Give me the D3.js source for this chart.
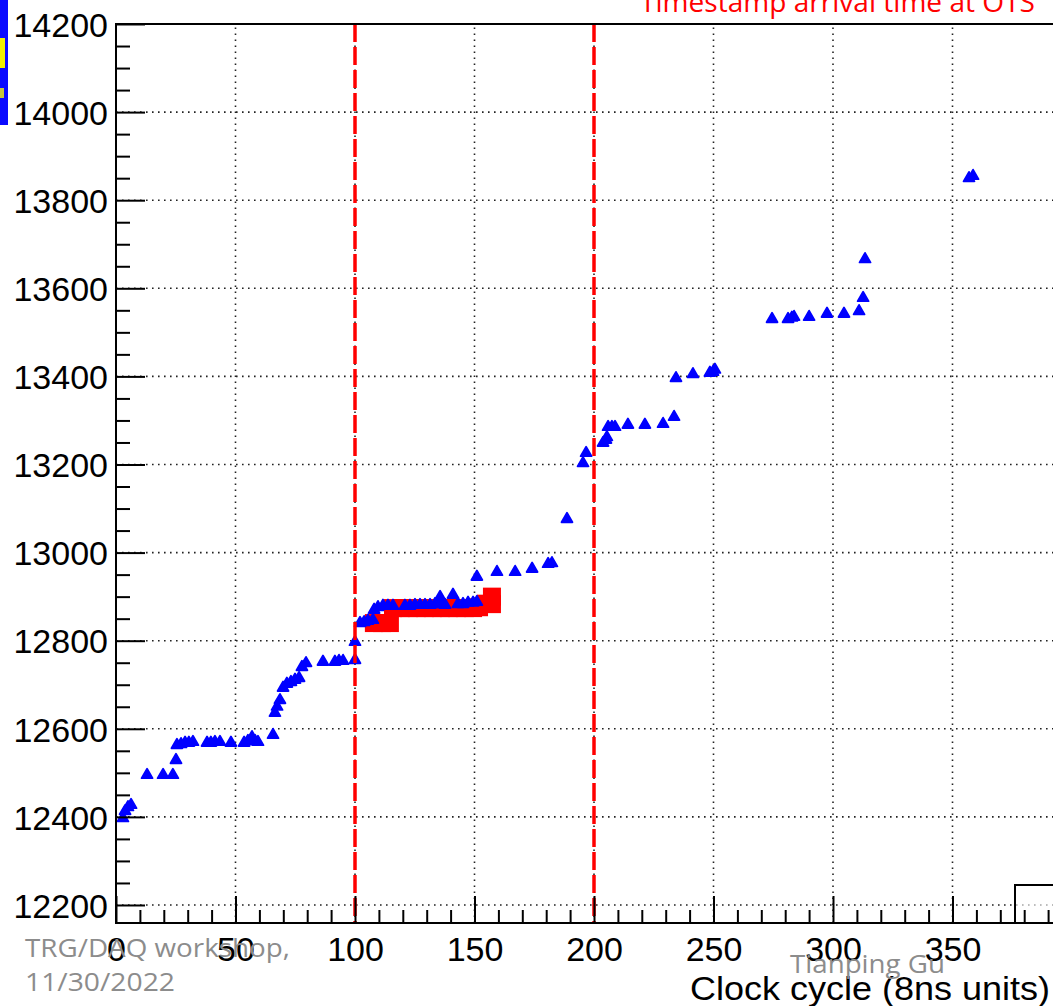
<!DOCTYPE html>
<html>
<head>
<meta charset="utf-8">
<script src="https://cdn.jsdelivr.net/npm/d3@7"></script>
<style>
  body { margin: 0; background: #fff; }
  svg { display: block; }
</style>
</head>
<body>
<svg id="chart"></svg>
<script>
const width = 1053;
const height = 1006;

// blue points: timestamp vs clock cycle
const blueX = [2.9, 3.8, 5.0, 6.3, 13.0, 19.7, 23.8, 25.1, 25.5, 27.2, 28.9, 30.5, 32.2,
  38.1, 39.7, 41.4, 43.5, 48.1, 53.6, 55.2, 56.9, 58.2, 59.4, 65.7, 66.5, 67.4, 68.6,
  69.9, 71.5, 73.2, 74.9, 76.6, 77.8, 79.5, 86.6, 91.6, 93.3, 95.0, 100.0, 100.0,
  102.1, 103.8, 105.4, 107.5, 108.0, 109.6, 111.7, 113.8, 115.9,
  120.9, 123.0, 125.1, 127.2, 129.3, 131.4, 133.5, 135.6, 137.7, 135.6, 141.0,
  143.1, 145.2, 147.3, 149.4, 151.0, 151.0, 159.4, 167.0, 174.1, 180.8, 182.4,
  188.7, 195.4, 196.7, 203.8, 205.0, 205.4, 205.9, 207.5, 208.8, 214.2, 221.3, 228.9,
  233.5, 234.3, 241.4, 248.5, 249.8, 250.6, 274.5, 281.2, 282.8, 283.7, 290.0, 297.5,
  304.6, 310.9, 312.6, 313.4, 356.9, 358.6];
const blueY = [12397, 12413, 12422, 12427, 12495, 12495, 12495, 12529, 12563, 12565, 12568, 12568, 12570,
  12568, 12568, 12570, 12570, 12568, 12568, 12572, 12581, 12572, 12570, 12586, 12636, 12650, 12665,
  12693, 12702, 12706, 12711, 12715, 12740, 12749, 12752, 12752, 12754, 12754, 12756, 12797,
  12840, 12842, 12845, 12847, 12870, 12876, 12879, 12879, 12879,
  12879, 12879, 12881, 12881, 12881, 12881, 12883, 12883, 12881, 12899, 12904,
  12883, 12883, 12886, 12886, 12888, 12945, 12956, 12956, 12963, 12974, 12976,
  13076, 13203, 13226, 13249, 13256, 13262, 13285, 13285, 13285, 13290, 13290, 13292,
  13308, 13396, 13405, 13408, 13410, 13415, 13530, 13530, 13533, 13535, 13535, 13542,
  13542, 13548, 13578, 13666, 13850, 13855];

// red points (large markers)
const redX = [107.9, 111.3, 114.6, 115.9, 119.2, 122.6, 125.9, 129.3, 132.6, 136.0, 139.3,
  142.7, 146.0, 149.4, 151.9, 154.8, 157.3, 157.3];
const redY = [12840, 12840, 12840, 12874, 12874, 12874, 12874, 12874, 12874, 12874, 12874,
  12874, 12874, 12874, 12876, 12884, 12883, 12900];

const xMajor = [0, 50, 100, 150, 200, 250, 300, 350, 400];
const yMajor = [12200, 12400, 12600, 12800, 13000, 13200, 13400, 13600, 13800, 14000, 14200];
const cutLines = [100, 200];

const svg = d3.select("#chart")
  .attr("width", width)
  .attr("height", height);

const x = d3.scaleLinear().domain([0, 400]).range([116, 1072]);
const y = d3.scaleLinear().domain([12159.1, 14200]).range([923, 24]);

// top-left slide decoration
svg.append("rect").attr("x", 0).attr("y", 0).attr("width", 8).attr("height", 125).attr("fill", "#0a0aff");
svg.append("rect").attr("x", 0).attr("y", 38).attr("width", 5).attr("height", 30).attr("fill", "#f2f200");
svg.append("rect").attr("x", 0).attr("y", 88).attr("width", 4).attr("height", 10).attr("fill", "#c8c83a");

// grid
const grid = svg.append("g").attr("stroke", "#222").attr("stroke-width", 1.6)
  .attr("stroke-dasharray", "1.6,4.4");
grid.selectAll(".gx").data(xMajor.filter(d => d > 0)).enter().append("line")
  .attr("x1", d => x(d)).attr("x2", d => x(d))
  .attr("y1", y.range()[0]).attr("y2", y.range()[1]);
grid.selectAll(".gy").data(yMajor.filter(d => d < 14200)).enter().append("line")
  .attr("x1", x.range()[0]).attr("x2", x.range()[1])
  .attr("y1", d => y(d)).attr("y2", d => y(d));

// red markers
svg.append("g").selectAll("rect")
  .data(redX.map((v, i) => [v, redY[i]]))
  .enter().append("rect")
  .attr("x", d => x(d[0]) - 9)
  .attr("y", d => y(d[1]) - 9)
  .attr("width", 18).attr("height", 18)
  .attr("fill", "#ff0000");

// blue markers
const tri = d3.symbol().type(d3.symbolTriangle).size(52);
svg.append("g").selectAll("path")
  .data(blueX.map((v, i) => [v, blueY[i]]))
  .enter().append("path")
  .attr("d", tri)
  .attr("transform", d => `translate(${x(d[0])},${y(d[1])})`)
  .attr("fill", "#0000ff")
  .attr("stroke", "#0000ff")
  .attr("stroke-width", 1.8)
  .attr("stroke-linejoin", "round");

// dashed cut lines
svg.append("g").selectAll("line").data(cutLines).enter().append("line")
  .attr("x1", d => x(d)).attr("x2", d => x(d))
  .attr("y1", y.range()[1]).attr("y2", y.range()[0])
  .attr("stroke", "#ff0000").attr("stroke-width", 3.5)
  .attr("stroke-dasharray", "18,5");

// stats box corner
svg.append("rect").attr("x", 1015).attr("y", 885).attr("width", 80).attr("height", 38)
  .attr("fill", "#fff").attr("fill-opacity", 0.6).attr("stroke", "#000").attr("stroke-width", 2);

// axes
const fontAxis = "'Liberation Sans', Arial, sans-serif";
const yAxis = d3.axisLeft(y).tickValues(yMajor).tickSize(-29).tickPadding(8).tickFormat(d3.format("d"));
const yMinor = d3.axisLeft(y).tickValues(d3.range(12200, 14200, 50).filter(v => v % 200 !== 0))
  .tickSize(-14).tickFormat("");
const xAxis = d3.axisBottom(x).tickValues(xMajor.slice(0, 8)).tickSize(-27).tickPadding(14).tickFormat(d3.format("d"));
const xMinor = d3.axisBottom(x).tickValues(d3.range(0, 400, 10).filter(v => v % 50 !== 0))
  .tickSize(-13).tickFormat("");

function styleAxis(g) {
  g.select(".domain").remove();
  g.selectAll("line").attr("stroke", "#000").attr("stroke-width", 2);
  g.selectAll("text").attr("font-family", fontAxis).attr("font-size", 34).attr("fill", "#000");
}

svg.append("g").attr("transform", `translate(${x(0)},0)`).call(yMinor).call(styleAxis);
svg.append("g").attr("transform", `translate(${x(0)},0)`).call(yAxis).call(styleAxis)
  .selectAll("text").attr("dy", "0.36em");
svg.append("g").attr("transform", `translate(0,${y(12159.1)})`).call(xMinor).call(styleAxis);
svg.append("g").attr("transform", `translate(0,${y(12159.1)})`).call(xAxis).call(styleAxis)
  .selectAll("text").attr("dy", "0.71em");

// frame
svg.append("rect")
  .attr("x", x(0)).attr("y", y(14200))
  .attr("width", x(400) - x(0)).attr("height", y(12159.1) - y(14200))
  .attr("fill", "none").attr("stroke", "#000").attr("stroke-width", 2);

// axis title
svg.append("text").attr("x", 1050).attr("y", 1000).attr("text-anchor", "end")
  .attr("font-family", fontAxis).attr("font-size", 34)
  .attr("textLength", 360).attr("lengthAdjust", "spacingAndGlyphs")
  .text("Clock cycle (8ns units)");

// slide texts
const fontSlide = "'Open Sans', 'Noto Sans', sans-serif";
svg.append("text").attr("x", 640).attr("y", 12).attr("fill", "#ff0000")
  .attr("font-family", fontSlide).attr("font-size", 27)
  .attr("textLength", 395).attr("lengthAdjust", "spacingAndGlyphs")
  .text("Timestamp arrival time at OTS");
svg.append("text").attr("x", 25).attr("y", 957).attr("fill", "#8c8c8c")
  .attr("font-family", fontSlide).attr("font-size", 26)
  .attr("textLength", 265).attr("lengthAdjust", "spacingAndGlyphs")
  .text("TRG/DAQ workshop,");
svg.append("text").attr("x", 25).attr("y", 991).attr("fill", "#8c8c8c")
  .attr("font-family", fontSlide).attr("font-size", 26)
  .attr("textLength", 150).attr("lengthAdjust", "spacingAndGlyphs")
  .text("11/30/2022");
svg.append("text").attr("x", 790).attr("y", 973).attr("fill", "#8c8c8c")
  .attr("font-family", fontSlide).attr("font-size", 26)
  .attr("textLength", 155).attr("lengthAdjust", "spacingAndGlyphs")
  .text("Tianping Gu");
</script>
</body>
</html>
